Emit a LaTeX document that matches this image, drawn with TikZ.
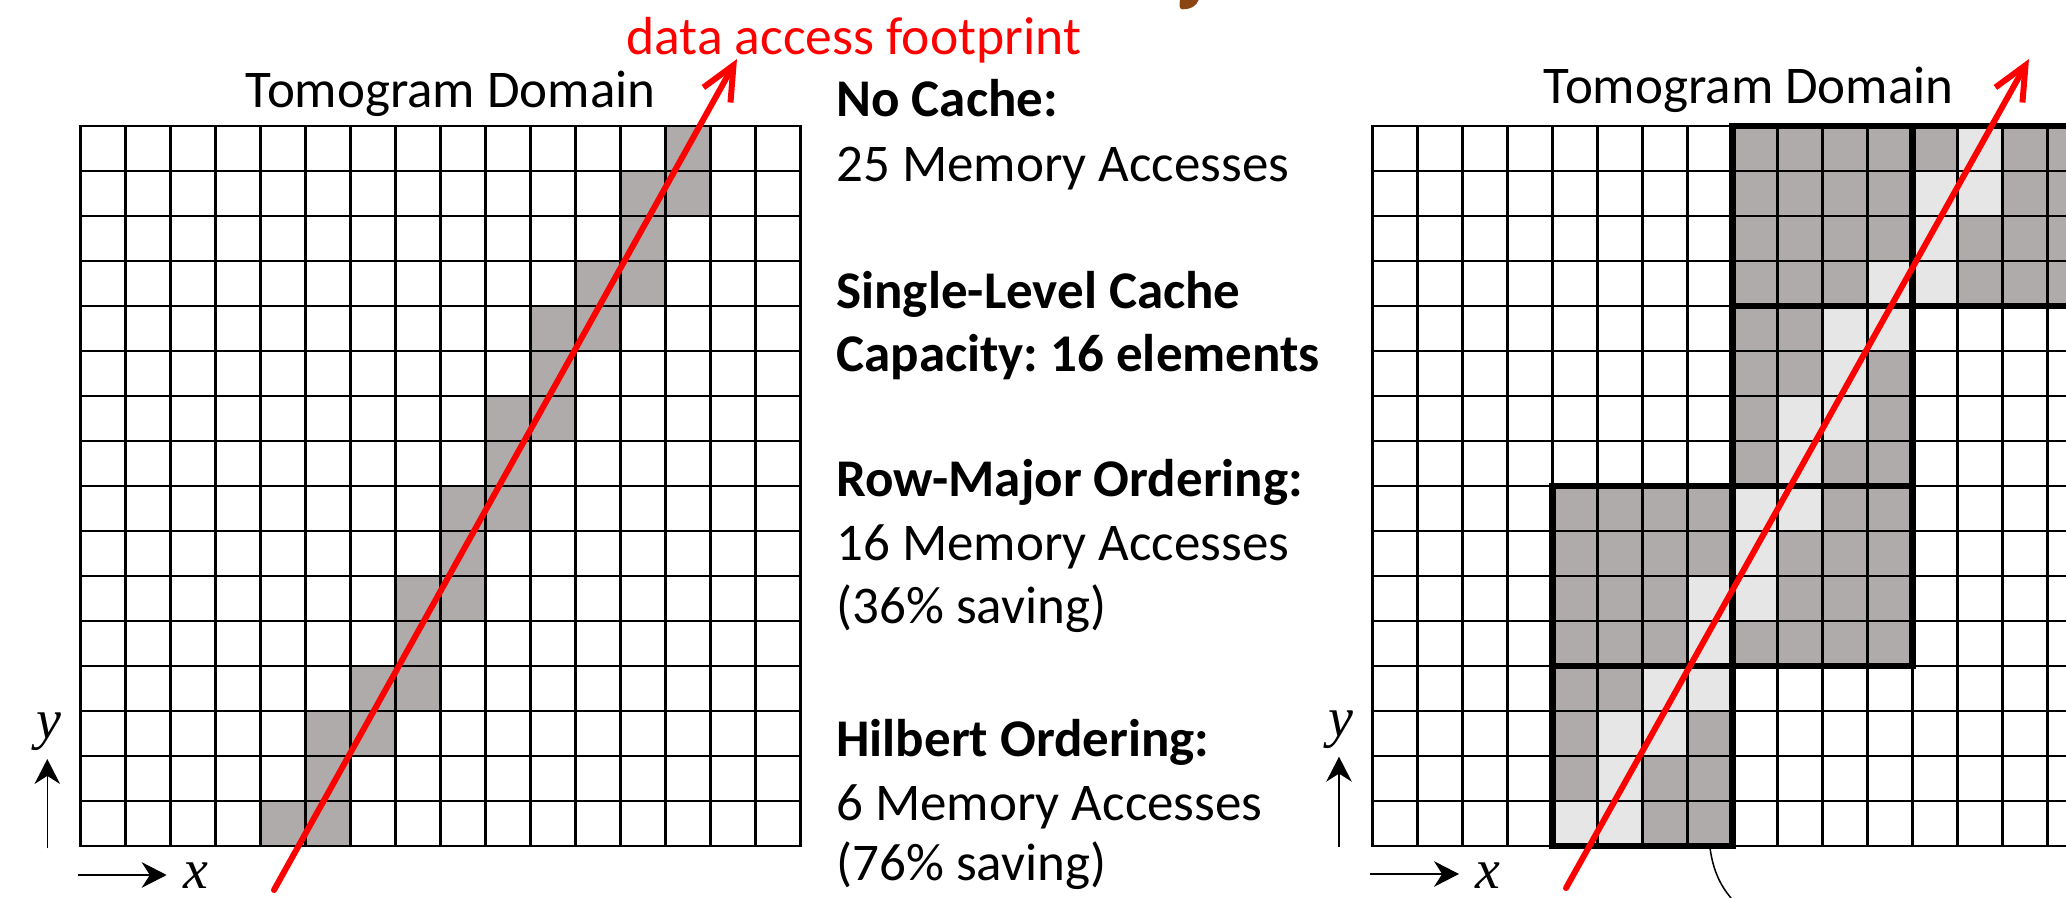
\documentclass[tikz,border=0pt]{standalone}
\usepackage{fontspec}
\setmainfont{Carlito}
\newfontfamily\axfont{Liberation Serif}
\usetikzlibrary{arrows.meta}
\definecolor{cellgray}{RGB}{175,171,170}
\definecolor{cellhit}{RGB}{230,230,230}
\definecolor{titlebrown}{RGB}{139,69,19}
\frenchspacing
\begin{document}
\begin{tikzpicture}[x=0.5pt,y=-0.5pt,
  gridline/.style={line width=1.2pt,black,line cap=rect},
  blockline/.style={line width=3.25pt,black,line join=miter},
  footprint/.style={red,line width=3pt,line cap=round,-{Straight Barb[length=17pt,width=15.5pt]}},
  axisarrow/.style={line width=0.75pt,black,-{Stealth[length=12.5pt,width=12.8pt]}},
  axislabel/.style={inner sep=0pt,font=\fontsize{28}{30}\axfont\itshape},
  info/.style={anchor=base west,inner sep=0pt,font=\fontsize{26.5}{30}\selectfont},
  titletext/.style={anchor=base west,inner sep=0pt,font=\fontsize{26.5}{30}\selectfont},
  redtext/.style={anchor=base west,inner sep=0pt,text=red,font=\fontsize{26.8}{30}\selectfont},
  callout/.style={line width=0.75pt,black}]
\useasboundingbox (0,0) rectangle (2066,898);
\clip (0,0) rectangle (2066,898);

% fragment of cut-off title
\fill[titlebrown] (1180,0) -- (1198.5,0) .. controls (1197,6) and (1190,9.5) .. (1182,9.3) .. controls (1179.5,9) and (1179,5) .. (1180,0) -- cycle;

% ---------- left grid ----------
\begin{scope}[shift={(80.5,846)},x=22.5pt,y=22.5pt]
  \foreach \c/\r in {4/0,5/0,5/1,5/2,6/2,6/3,7/3,7/4,7/5,8/5,8/6,8/7,9/7,9/8,9/9,10/9,10/10,10/11,11/11,11/12,12/12,12/13,12/14,13/14,13/15}
    \fill[cellgray] (\c,\r) rectangle ++(1,1);
  \foreach \i in {0,...,16} {
    \draw[gridline] (\i,0) -- (\i,16);
    \draw[gridline] (0,\i) -- (16,\i);
  }
\end{scope}

% ---------- right grid ----------
\begin{scope}[shift={(1372.5,846)},x=22.5pt,y=22.5pt]
  \foreach \c/\r in {4/0,4/4,8/4,8/8,8/12,12/12}
    \fill[cellgray] (\c,\r) rectangle ++(4,4);
  \foreach \c/\r in {4/0,5/0,5/1,5/2,6/2,6/3,7/3,7/4,7/5,8/5,8/6,8/7,9/7,9/8,9/9,10/9,10/10,10/11,11/11,11/12,12/12,12/13,12/14,13/14,13/15}
    \fill[cellhit] (\c,\r) rectangle ++(1,1);
  \foreach \i in {0,...,16} {
    \draw[gridline] (\i,0) -- (\i,16);
    \draw[gridline] (0,\i) -- (16,\i);
  }
  \foreach \c/\r in {4/0,4/4,8/4,8/8,8/12,12/12}
    \draw[blockline] (\c,\r) rectangle ++(4,4);
\end{scope}

% ---------- titles ----------
\node[titletext] (domL) at (245.5,107.3) {Tomogram Domain};
\node[titletext] (domR) at (1543.5,104) {Tomogram Domain};
\node[redtext] (foot) at (626,55) {data access footprint};

% ---------- red footprint arrows ----------
\coordinate (LS) at (274,890);
\coordinate (LE) at (737,59);
\coordinate (RS) at (1566,888);
\coordinate (RE) at (2029,59);
\draw[footprint] (LS) -- (LE);
\draw[footprint] (RS) -- (RE);

% ---------- axes ----------
\coordinate (LyA) at (47.3,848.3);
\coordinate (LyB) at (47.3,759);
\coordinate (LxA) at (78.3,875);
\coordinate (LxB) at (166.7,875);
\draw[axisarrow] (LyA) -- (LyB);
\draw[axisarrow] (LxA) -- (LxB);
\node[axislabel] (Ly) at (49,732) {y};
\node[axislabel] (Lx) at (195.5,876) {x};

\coordinate (RyA) at (1339,846.7);
\coordinate (RyB) at (1339,756.7);
\coordinate (RxA) at (1370,874);
\coordinate (RxB) at (1459,874);
\draw[axisarrow] (RyA) -- (RyB);
\draw[axisarrow] (RxA) -- (RxB);
\node[axislabel] (Ry) at (1341,730) {y};
\node[axislabel] (Rx) at (1488,875.5) {x};

% ---------- callout curve (cut off) ----------
\coordinate (C1) at (1710,848);
\coordinate (C2) at (1731,898);
\draw[callout] (C1) .. controls (1713,870) and (1720,885) .. (C2);

% ---------- middle text ----------
\node[info] (t1) at (836,116.7) {\textbf{No Cache:}};
\node[info] (t2) at (836,181.7) {25 Memory Accesses};
\node[info] (t3) at (836,308.3) {\textbf{Single-Level Cache}};
\node[info] (t4) at (836,371.7) {\textbf{Capacity: 16 elements}};
\node[info] (t5) at (836,496.7) {\textbf{Row-Major Ordering:}};
\node[info] (t6) at (836,560) {16 Memory Accesses};
\node[info] (t7) at (836,623.3) {(36\% saving)};
\node[info] (t8) at (836,756.7) {\textbf{Hilbert Ordering:}};
\node[info] (t9) at (836,820) {6 Memory Accesses};
\node[info] (t10) at (836,880) {(76\% saving)};
\end{tikzpicture}
\end{document}
